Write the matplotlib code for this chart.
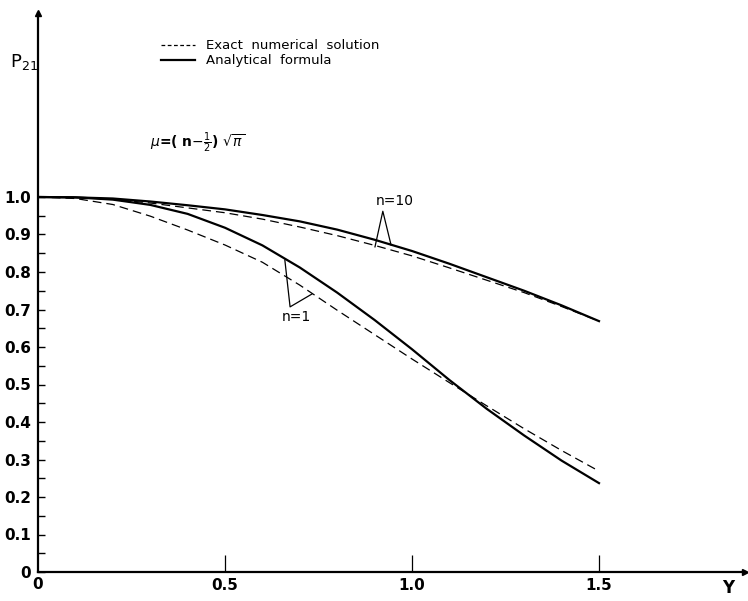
import numpy as np
import matplotlib
matplotlib.use("Agg")
import matplotlib.pyplot as plt

# values
y_vals = [0.0, 0.1, 0.2, 0.3, 0.4, 0.5, 0.6, 0.7, 0.8, 0.9, 1.0, 1.1, 1.2, 1.3, 1.4, 1.5]

n1_exact = [1.0, 0.996, 0.980, 0.949, 0.912, 0.872, 0.826, 0.765, 0.698, 0.633, 0.568,
            0.505, 0.443, 0.382, 0.324, 0.269]
n1_analytic = [1.0, 0.999, 0.993, 0.979, 0.955, 0.918, 0.871, 0.812, 0.745, 0.672, 0.594,
               0.512, 0.435, 0.364, 0.297, 0.237]
n10_exact = [1.0, 0.999, 0.994, 0.984, 0.971, 0.958, 0.941, 0.920, 0.897, 0.871, 0.843,
             0.811, 0.778, 0.745, 0.708, 0.669]
n10_analytic = [1.0, 0.999, 0.996, 0.988, 0.978, 0.967, 0.952, 0.935, 0.913, 0.886, 0.856,
                0.822, 0.786, 0.750, 0.711, 0.669]

x_ticks = [0.5, 1.0, 1.5]
x_ticklabels = ["0.5", "1.0", "1.5"]
y_ticks = [0, 0.1, 0.2, 0.3, 0.4, 0.5, 0.6, 0.7, 0.8, 0.9, 1.0]
y_ticklabels = ["0", "0.1", "0.2", "0.3", "0.4", "0.5", "0.6", "0.7", "0.8", "0.9", "1.0"]

fig = plt.figure(figsize=(7.48, 6.01), dpi=100)
ax = fig.add_axes([38 / 748, 29 / 601, 707 / 748, 559 / 601])

dash = (0, (7, 4))
ax.plot(y_vals, n1_exact, color="black", lw=0.9, ls=dash)
ax.plot(y_vals, n10_exact, color="black", lw=0.9, ls=dash)
ax.plot(y_vals, n1_analytic, color="black", lw=1.6)
ax.plot(y_vals, n10_analytic, color="black", lw=1.6)

ax.set_xlim(0, 707 / 374)
ax.set_ylim(0, 559 / 375)

for s in ["top", "right"]:
    ax.spines[s].set_visible(False)
for s in ["left", "bottom"]:
    ax.spines[s].set_linewidth(1.6)

# arrow heads at axis ends
ax.plot(1, 0, ">", color="black", ms=5, transform=ax.transAxes, clip_on=False)
ax.plot(0, 1, "^", color="black", ms=5, transform=ax.transAxes, clip_on=False)

ax.set_xticks(x_ticks)
ax.set_xticklabels(x_ticklabels)
ax.set_yticks(y_ticks)
ax.set_yticklabels(y_ticklabels)
ax.set_yticks(np.arange(0.05, 1.0, 0.1), minor=True)
ax.tick_params(axis="x", direction="in", length=12, width=0.9, pad=4, labelsize=11)
ax.tick_params(axis="y", which="major", direction="in", length=5, width=1.0, pad=5,
               labelsize=11)
ax.tick_params(axis="y", which="minor", direction="in", length=5, width=1.0)
for lab in ax.get_xticklabels() + ax.get_yticklabels():
    lab.set_fontweight("bold")

ax.text(0, -0.009, "0", ha="center", va="top", fontsize=11, fontweight="bold",
        transform=ax.get_xaxis_transform())
ax.text(1.845, -0.012, "Y", ha="center", va="top", fontsize=12, fontweight="bold",
        transform=ax.get_xaxis_transform(), clip_on=False)
ax.text(-0.075, 1.36, r"P$_{21}$", ha="left", va="center", fontsize=13)

# legend drawn as in the original
ax.plot([0.328, 0.42], [1.405, 1.405], color="black", lw=0.9, ls=(0, (3, 2)))
ax.plot([0.328, 0.42], [1.365, 1.365], color="black", lw=1.6)
ax.text(0.45, 1.405, "Exact  numerical  solution", va="center", fontsize=9.5)
ax.text(0.45, 1.365, "Analytical  formula", va="center", fontsize=9.5)
ax.text(0.30, 1.145, r"$\mu$=( n$-\frac{1}{2}$) $\sqrt{\pi}$", va="center", fontsize=10,
        fontweight="bold")

# curve labels
ax.plot([0.901, 0.922, 0.944], [0.867, 0.962, 0.872], color="black", lw=0.9)
ax.text(0.955, 0.99, "n=10", ha="center", va="center", fontsize=10)
ax.plot([0.66, 0.674, 0.732], [0.832, 0.707, 0.741], color="black", lw=0.9)
ax.text(0.69, 0.68, "n=1", ha="center", va="center", fontsize=10)

fig.savefig("out.png", dpi=100)
